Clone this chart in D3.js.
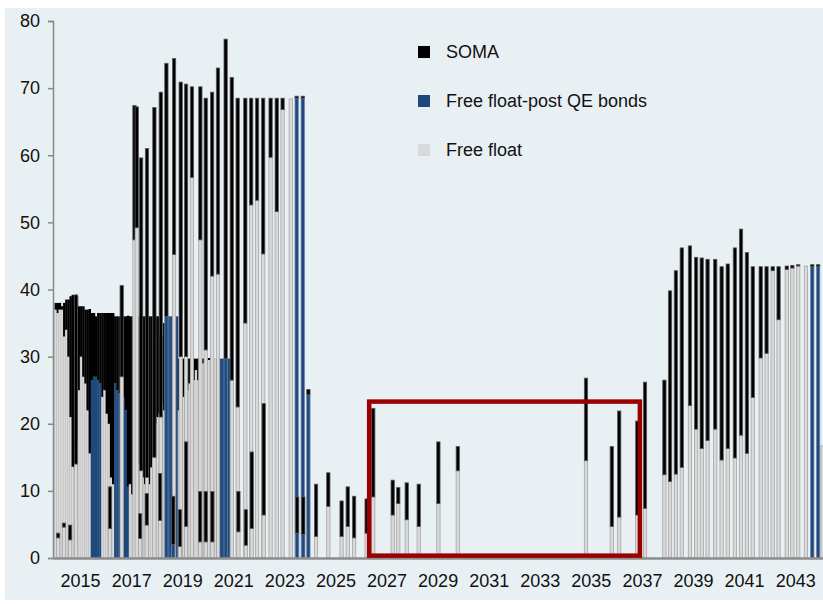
<!doctype html>
<html>
<head>
<meta charset="utf-8">
<title>Maturity profile: SOMA vs free float</title>
<script src="https://d3js.org/d3.v7.min.js"></script>
<style>
  body { margin:0; background:#fff; }
  text { font-family: "Liberation Sans", Arial, sans-serif; fill:#111; }
</style>
</head>
<body>
<svg id="chart" width="823" height="604"></svg>
<script>
// legend / series
const seriesNames  = ["SOMA", "Free float-post QE bonds", "Free float"];
const seriesColors = ["#000000", "#1f497d", "#d9d9d9"];

// x axis labels (years)
const yearTicks = [2015, 2017, 2019, 2021, 2023, 2025, 2027, 2029, 2031, 2033, 2035, 2037, 2039, 2041, 2043];
const valueTicks = [0, 10, 20, 30, 40, 50, 60, 70, 80];

// bills / notes 2014-2020, one value per month starting Jan 2014
const denseStart = 2014;
const denseFree = [37,36.5,37,37,33,34,30,21,13.6,13.5,17,25,30,27,26,22,15.6,
  0,0,0,0,0, 24,25,21.5,20,12,11, 0,0,0,0,0,0,0,
  11,9.5,12,13,14,12,12,11,12.5,11,13.5,15,20,21,21.5,23,22,
  0,0,0,0,0,0,
  22,22,24,24,25,26,27,26.5,28,26.5,28,29,29,29.3,29.5,29.5,29.7,29.7,
  0,0,0,0,0,0,0];
const denseQE = [0,0,0,0,0,0,0,0,0,0,0,0,0,0,0,0,0,
  26.5,27,27,26.5,26, 0,0,0,0,0,0, 26,25,24.5,25,24,22,10.6,
  0,0,0,0,0,0,0,0,0,0,0,0,0,0,0,0,0,
  24,36,36,36,36,36,
  0,0,0,0,0,0,0,0,0,0,0,0,0,0,0,0,0,0,
  29.7,29.7,29.7,29.7,29.7,29.7,29.7];
const denseSoma = [1,1.5,1,0.5,5,4.5,8.5,18,25.6,25.5,22,12.5,7.5,10.5,11,15,21.5,
  10,9.5,9,10,10.5, 12.5,11.5,15,16.5,24.5,25.5, 10,11,11.5,11,12,14,25.5,
  25,26.5,24,23,22,24,24,25,23.5,25,22.5,21,16,15,11.5,10,13,
  12,0,0,0,0,0,
  7.7,7.7,5.7,5.7,4.7,3.7,2.7,3.2,1.7,3.2,1.7,0.7,0.7,0.4,0.3,0.3,0,0,
  0,0,0,0,0,0,0];

// coupon bonds (maturity date as fractional year)
const bondDates = [2014.84,2016.63,2017.13,2017.22,2017.39,2017.62,2017.91,2018.16,2018.38,2018.68,
  2018.94,2019.15,2019.38,2019.71,2019.92,2020.17,2020.40,2020.70,2020.94,2021.17,
  2021.47,2021.70,2021.93,2022.17,2022.46,2022.70,2022.93,2023.25,2023.48,2023.72,
  2023.94,2024.24,2024.72,2025.24,2025.48,2025.73,2026.22,2026.48,2027.24,2027.46,
  2027.79,2028.26,2029.03,2029.79,2034.81,2035.82,2036.11,2036.82,2037.12,2037.88,
  2038.10,2038.33,2038.56,2038.88,2039.12,2039.34,2039.57,2039.87,2040.12,2040.36,
  2040.64,2040.88,2041.11,2041.34,2041.65,2041.88,2042.12,2042.35,2042.67,2042.89,
  2043.12,2043.42,2043.67,2043.90,2044.07];
const bondFree = [14,27,47.4,49.2,13,12,15,21,0,45.2,
  30,30,56.7,47.4,31,42,42.3,0,26.5,22.5,
  35,52.6,53.3,45.3,59.7,51.6,66.8,68.4,0,0,
  0,3.2,7.7,3.2,4.7,3.0,3.7,9.1,6.4,8.1,
  5.7,4.7,8.1,13.0,14.5,4.7,6.1,6.4,7.4,12.4,
  11.4,12.5,13.5,22.7,19.2,16.3,17.5,19.2,14.6,16.3,
  14.9,18.3,15.6,23.9,29.8,30.5,42.8,35.5,43.0,43.2,
  43.5,43.5,0,0,16.7];
const bondQE = [0,0,0,0,0,0,0,0,36,0,
  0,0,0,0,0,0,0,29.7,0,0,
  0,0,0,0,0,0,0,0,68.5,68.5,
  24.3,0,0,0,0,0,0,0,0,0,
  0,0,0,0,0,0,0,0,0,0,
  0,0,0,0,0,0,0,0,0,0,
  0,0,0,0,0,0,0,0,0,0,
  0,0,43.4,43.4,0];
const bondSoma = [25.2,13.6,20,18,46.6,49,52.1,48.4,37.7,29.2,
  40.9,40.6,13.5,22.8,37.5,27.4,30.7,47.6,45.1,46,
  33.5,15.9,15.2,23.2,8.8,16.9,1.7,0,0.3,0.3,
  0.8,7.8,5.0,5.3,5.9,6.2,5.1,13.2,5.2,2.4,
  5.5,6.3,9.2,3.6,12.3,11.9,15.8,14,18.8,14.1,
  28.4,30.3,32.7,23.8,25.6,28.4,27,25.3,28.8,27.5,
  31.3,30.7,29.9,19.5,13.6,12.9,0.6,7.9,0.5,0.4,
  0.2,0,0.3,0.3,0];

// smaller notes sitting in front of the bonds
const noteDates = [2014.14,2014.37,2014.61,2016.17,2017.35,2017.61,2018.13,2018.65,2018.91,2019.15,
  2019.70,2019.92,2020.18,2021.20,2021.49,2021.72,2022.19,2023.50,2023.74];
const noteFree = [3,4.6,2.7,4.4,2.9,4.9,5.6,0,1.7,4.7,2.4,2.4,2.4,3.9,1.9,4.4,6.4,0,0];
const noteQE   = [0,0,0,0,0,0,0,2.0,0,0,0,0,0,0,0,0,0,3.7,3.5];
const noteSoma = [0.7,0.6,2.2,6.2,3.7,4.7,7.0,7.2,5.5,12.6,7.5,7.5,7.5,6.0,5.3,11.4,16.6,5.4,5.6];

// highlighted window [x0, x1, y0, y1]
const highlight = [2026.32, 2036.92, 0.35, 23.3];

const svg = d3.select("#chart");
const x = d3.scaleLinear().domain([2013.94, 2044.09]).range([53, 823]);
const y = d3.scaleLinear().domain([0, 80]).range([558, 21]);

// background panel
svg.append("rect").attr("x", 5).attr("y", 8).attr("width", 818).attr("height", 592).attr("fill", "#e9f0f4");

function stack(f, q, s) {
  return [
    {k: "free", y0: 0, y1: f},
    {k: "qe", y0: f, y1: f + q},
    {k: "soma", y0: f + q, y1: f + q + s}
  ].filter(p => p.y1 > p.y0);
}

const fills   = {free: "#d9d9d9", qe: "#1f497d", soma: "#000000"};
const strokes = {free: "#a6a6a6", qe: "#6f87ab", soma: "#5a5a5a"};

// dense monthly block
let dense = denseFree.map((f, i) => ({date: denseStart + i / 12, segs: stack(f, denseQE[i], denseSoma[i])}));
let gDense = svg.append("g");
dense.forEach(d => {
  let x0 = x(d.date), w = x(d.date + 1 / 12) - x0 + 0.3;
  gDense.selectAll(null).data(d.segs).enter().append("rect")
    .attr("x", x0).attr("width", w)
    .attr("y", p => y(p.y1)).attr("height", p => y(p.y0) - y(p.y1))
    .attr("fill", p => fills[p.k])
    .attr("stroke", p => p.k === "free" ? "#b8b8b8" : "none")
    .attr("stroke-width", 0.5);
});

// thin bars (bonds then notes)
function thinBars(dates, fr, qe, so) {
  let g = svg.append("g");
  dates.forEach((dt, i) => {
    let x0 = x(dt - 0.065), w = x(dt + 0.065) - x0;
    g.selectAll(null).data(stack(fr[i], qe[i], so[i])).enter().append("rect")
      .attr("x", x0).attr("width", w)
      .attr("y", p => y(p.y1)).attr("height", p => y(p.y0) - y(p.y1))
      .attr("fill", p => fills[p.k])
      .attr("stroke", p => strokes[p.k])
      .attr("stroke-width", 0.8);
  });
}
thinBars(bondDates, bondFree, bondQE, bondSoma);
thinBars(noteDates, noteFree, noteQE, noteSoma);

// y axis
let yAxis = svg.append("g").attr("transform", "translate(53,0)")
  .call(d3.axisLeft(y).tickValues(valueTicks).tickSize(5).tickPadding(8));
yAxis.selectAll("path, line").attr("stroke", "#888").attr("stroke-width", 1.5);
yAxis.selectAll("text").attr("font-size", 18).attr("fill", "#111");

// x axis
let xAxis = svg.append("g").attr("transform", "translate(0,558)")
  .call(d3.axisBottom(x).tickValues(yearTicks).tickFormat(d3.format("d")).tickSize(0).tickPadding(16));
xAxis.select("path").attr("stroke", "#8c8c8c").attr("stroke-width", 2.5);
xAxis.selectAll("text").attr("font-size", 18).attr("fill", "#111");

// red highlight box
svg.append("rect")
  .attr("x", x(highlight[0])).attr("y", y(highlight[3]))
  .attr("width", x(highlight[1]) - x(highlight[0]))
  .attr("height", y(highlight[2]) - y(highlight[3]))
  .attr("fill", "none").attr("stroke", "#9b0000").attr("stroke-width", 4.5);

// legend
let leg = svg.append("g").selectAll("g").data(seriesNames).enter().append("g")
  .attr("transform", (d, i) => "translate(418," + (46 + i * 49) + ")");
leg.append("rect").attr("width", 12).attr("height", 12).attr("fill", (d, i) => seriesColors[i]);
leg.append("text").attr("x", 28).attr("y", 11.5).attr("font-size", 18).text(d => d);
</script>
</body>
</html>
